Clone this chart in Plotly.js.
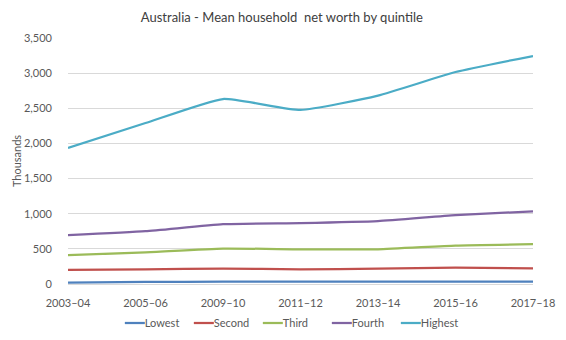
<!DOCTYPE html>
<html>
<head>
<meta charset="utf-8">
<script src="https://cdn.plot.ly/plotly-3.0.1.min.js"></script>
<style>html,body{margin:0;padding:0;background:#fff;}#chart{width:566px;height:340px;}</style>
</head>
<body>
<div id="chart"></div>
<script>
const years = ["2003–04", "2005–06", "2009–10", "2011–12", "2013–14", "2015–16", "2017–18"];
const lowest  = [20, 30, 33, 33, 34, 35, 35];
const second  = [200, 209, 219, 209, 219, 233, 223];
const third   = [409, 451, 504, 494, 494, 547, 566];
const fourth  = [694, 751, 851, 866, 894, 980, 1033];
const highest = [1935, 2290, 2632, 2476, 2680, 3016, 3244];
const seriesNames = ["Lowest", "Second", "Third", "Fourth", "Highest"];
const colors = ["#4F81BD", "#C0504D", "#9BBB59", "#8064A2", "#4BACC6"];
const yTicks = [0, 500, 1000, 1500, 2000, 2500, 3000, 3500];

const allSeries = [lowest, second, third, fourth, highest];
const traces = allSeries.map((vals, i) => ({
  x: years, y: vals, name: seriesNames[i], type: 'scatter', mode: 'lines',
  line: {color: colors[i], width: 2.25, shape: 'spline', smoothing: 0.45},
  hoverinfo: 'skip'
}));

const layout = {
  width: 566, height: 340,
  margin: {l: 68, r: 33, t: 38, b: 56},
  paper_bgcolor: '#fff', plot_bgcolor: '#fff',
  font: {family: 'Lato, "Open Sans", sans-serif', color: '#595959', size: 11},
  title: {text: 'Australia - Mean household  net worth by quintile', x: 0.498, xanchor: 'center', y: 0.95, yanchor: 'middle',
          font: {size: 13, color: '#404040'}},
  xaxis: {type: 'category', range: [0, 6], showgrid: false, zeroline: false,
          showline: false, ticks: 'outside', ticklen: 9, tickcolor: 'rgba(0,0,0,0)',
          tickfont: {size: 11, color: '#595959'}, fixedrange: true, automargin: false},
  yaxis: {range: [0, 3500], tickvals: yTicks, ticktext: yTicks.map(v => v.toLocaleString('en-US')),
          showgrid: true, gridcolor: '#D9D9D9', gridwidth: 1, zeroline: true, zerolinecolor: '#D9D9D9', zerolinewidth: 1,
          ticks: '', showline: false, ticklabelstandoff: 15, automargin: false,
          title: {text: 'Thousands', font: {size: 11, color: '#595959'}, standoff: 0}, fixedrange: true},
  legend: {orientation: 'h', x: 0.49, xanchor: 'center', xref: 'container', y: 0.05, yanchor: 'middle', yref: 'container',
           font: {size: 11, color: '#595959'}, itemwidth: 30, entrywidth: 24},
  showlegend: true
};

Plotly.newPlot('chart', traces, layout, {displayModeBar: false, staticPlot: true}).then(gd => {
  // Excel-style legend: short line touching its label
  gd.querySelectorAll('.legend .legendlines path').forEach(p => p.setAttribute('d', 'M20,0h20'));
  gd.querySelectorAll('.legend .scrollbox, .legend').forEach(el => el.removeAttribute('clip-path'));
  gd.querySelectorAll('.legend [clip-path]').forEach(el => el.removeAttribute('clip-path'));
});
</script>
</body>
</html>
